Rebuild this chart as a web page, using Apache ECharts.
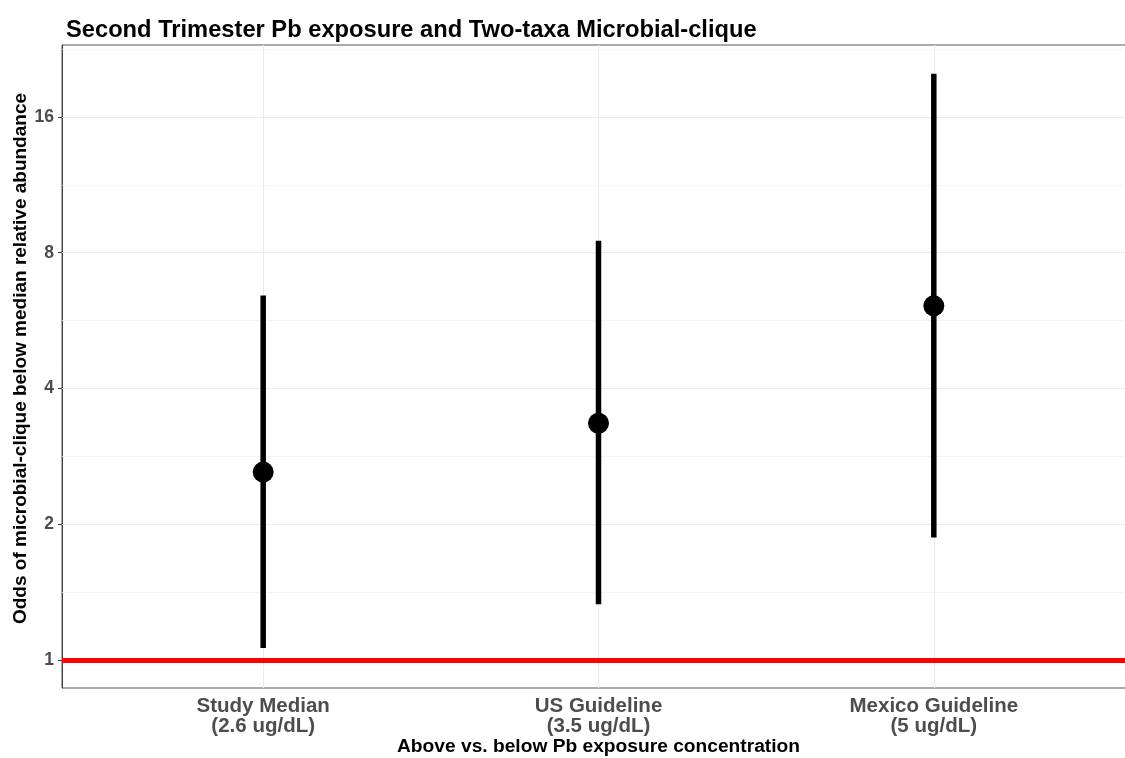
<!DOCTYPE html>
<html><head><meta charset="utf-8">
<script src="https://cdn.jsdelivr.net/npm/echarts@6/dist/echarts.min.js"></script>
<style>html,body{margin:0;padding:0;background:#fff;overflow:hidden}#c{width:1125px;height:758px}</style>
</head><body><div id="c"></div>
<script>
const categories = ['Study Median\n(2.6 ug/dL)', 'US Guideline\n(3.5 ug/dL)', 'Mexico Guideline\n(5 ug/dL)'];
const oddsRatio = [2.61, 3.35, 6.1];
const ciLower = [1.063, 1.33, 1.87];
const ciUpper = [6.43, 8.5, 19.95];
const yTickValues = [1, 2, 4, 8, 16];
const yMinorValues = [1.4142, 2.8284, 5.6569, 11.3137, 22.6274];
const referenceLine = 1;
const yRange = [0.867, 23.1];

const L = v => Math.log2(v);
const xPos = categories.map((c, i) => i + 1);
const font = 'Liberation Sans, Arial, sans-serif';

const chart = echarts.init(document.getElementById('c'), null, {renderer: 'canvas'});
chart.setOption({
  animation: false,
  backgroundColor: '#fff',
  title: {
    text: 'Second Trimester Pb exposure and Two-taxa Microbial-clique',
    left: 61, top: 13,
    textStyle: {fontFamily: font, fontWeight: 'bold', fontSize: 23.7, color: '#000'}
  },
  grid: {left: 62, right: -10, top: 45, bottom: 70, outerBoundsMode: 'none', containLabel: false,
    show: true, borderColor: '#555', borderWidth: 1, backgroundColor: 'transparent'},
  xAxis: {
    type: 'value', min: 0.4, max: 3.6,
    axisLine: {show: true, lineStyle: {color: '#444', width: 1}},
    axisTick: {show: true, customValues: xPos, length: 4, lineStyle: {color: '#333'}},
    axisLabel: {customValues: xPos, formatter: v => categories[Math.round(v) - 1] || '',
      fontFamily: font, fontWeight: 'bold', fontSize: 20.5, color: '#4D4D4D', lineHeight: 20, margin: 8},
    splitLine: {show: false},
    name: 'Above vs. below Pb exposure concentration',
    nameLocation: 'middle', nameGap: 49, nameMoveOverlap: false,
    nameTextStyle: {fontFamily: font, fontWeight: 'bold', fontSize: 19.2, color: '#000', verticalAlign: 'top'}
  },
  yAxis: {
    type: 'value', min: L(yRange[0]), max: L(yRange[1]),
    axisLine: {show: true, lineStyle: {color: '#444', width: 1}},
    axisTick: {show: true, customValues: yTickValues.map(L), length: 4, lineStyle: {color: '#333'}},
    axisLabel: {customValues: yTickValues.map(L), formatter: v => String(Math.round(Math.pow(2, v))),
      fontFamily: font, fontWeight: 'bold', fontSize: 17.5, color: '#4D4D4D', margin: 8},
    splitLine: {show: false},
    name: 'Odds of microbial-clique below median relative abundance',
    nameLocation: 'middle', nameGap: 32, nameRotate: 90, nameMoveOverlap: false,
    nameTextStyle: {fontFamily: font, fontWeight: 'bold', fontSize: 19, color: '#000', padding: [0, 0, 0, 16]}
  },
  series: [
    {
      type: 'line', data: [], silent: true, z: 1,
      markLine: {
        silent: true, z: 1, symbol: ['none', 'none'], label: {show: false},
        data: [
          ...yMinorValues.map(v => ({yAxis: L(v), lineStyle: {color: '#EFEFEF', width: 0.7, type: 'solid'}})),
          ...yTickValues.map(v => ({yAxis: L(v), lineStyle: {color: '#EBEBEB', width: 1.1, type: 'solid'}})),
          ...xPos.map(v => ({xAxis: v, lineStyle: {color: '#EBEBEB', width: 1.1, type: 'solid'}}))
        ]
      }
    },
    {
      type: 'custom', z: 3, silent: true,
      data: xPos.map((x, i) => [x, L(ciLower[i]), L(ciUpper[i])]),
      renderItem: (params, api) => {
        const p1 = api.coord([api.value(0), api.value(1)]);
        const p2 = api.coord([api.value(0), api.value(2)]);
        const w = 5.5;
        return {type: 'rect', shape: {x: p1[0] - w / 2, y: p2[1], width: w, height: p1[1] - p2[1]},
          style: {fill: '#000', stroke: null}};
      }
    },
    {
      type: 'scatter', z: 4, symbol: 'circle', symbolSize: 21, silent: true,
      itemStyle: {color: '#000', opacity: 1},
      data: xPos.map((x, i) => [x, L(oddsRatio[i])])
    },
    {
      type: 'line', data: [], silent: true, z: 5,
      markLine: {
        silent: true, z: 6, symbol: ['none', 'none'], label: {show: false},
        data: [{yAxis: L(referenceLine), lineStyle: {color: '#FF0000', width: 5, type: 'solid'}}]
      }
    }
  ]
});
</script></body></html>
